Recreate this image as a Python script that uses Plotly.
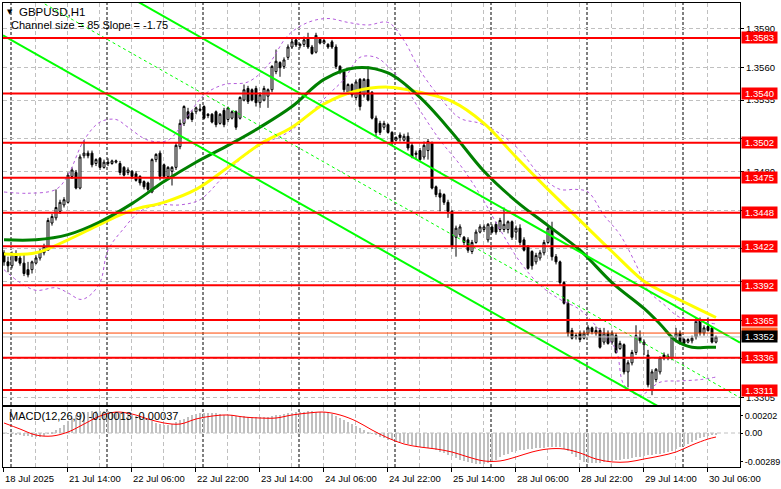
import plotly.graph_objects as go

# ---------------- data ----------------
bars = list(range(179))  # H1 bars, 18 Jul 22:00 ... 30 Jul 08:00

opens = [
 1.3417,1.3410,1.3407,1.3416,1.3413,1.3409,1.3404,1.3404,1.3409,1.3413,
 1.3417,1.3419,1.3440,1.3444,1.3449,1.3454,1.3456,1.3476,1.3479,1.3467,
 1.3492,1.3494,1.3494,1.3486,1.3490,1.3483,1.3487,1.3486,1.3487,1.3486,
 1.3483,1.3479,1.3480,1.3478,1.3476,1.3472,1.3471,1.3464,1.3489,1.3494,
 1.3485,1.3476,1.3480,1.3483,1.3499,1.3517,1.3526,1.3525,1.3526,1.3527,
 1.3530,1.3524,1.3524,1.3526,1.3517,1.3527,1.3520,1.3521,1.3526,1.3521,
 1.3535,1.3544,1.3543,1.3544,1.3533,1.3535,1.3538,1.3543,1.3557,1.3564,
 1.3561,1.3568,1.3576,1.35815,1.3577,1.3578,1.3583,1.3576,1.3572,1.3582,
 1.3579,1.3578,1.3580,1.3576,1.3561,1.3557,1.3541,1.3547,1.3537,1.3551,
 1.3539,1.3551,1.3541,1.3521,1.3517,1.3514,1.3516,1.3510,1.3504,1.3508,
 1.3504,1.3507,1.3500,1.3493,1.3496,1.3491,1.3496,1.3502,1.3468,1.3463,
 1.3462,1.3456,1.3449,1.3429,1.3431,1.3429,1.3427,1.3418,1.3425,1.3433,
 1.3435,1.3427,1.3437,1.3439,1.3435,1.3435,1.3435,1.3441,1.3433,1.3436,
 1.3427,1.3422,1.3418,1.3410,1.3413,1.3417,1.3425,1.3436,1.3414,1.3410,
 1.3394,1.3378,1.3357,1.3352,1.3355,1.3351,1.3355,1.3359,1.3355,1.3357,
 1.3348,1.3355,1.3348,1.3353,1.3343,1.3346,1.3325,1.3332,1.3340,1.3352,
 1.3346,1.3338,1.3311,1.3319,1.3325,1.3338,1.3336,1.3336,1.3352,1.3355,
 1.3350,1.3348,1.3349,1.3352,1.3365,1.3355,1.3360,1.3359,1.3348]

highs = [
 1.3419,1.3414,1.3418,1.3419,1.3415,1.3416,1.3410,1.3411,1.3415,1.3420,
 1.3424,1.3444,1.3447,1.3466,1.3458,1.3460,1.3479,1.3483,1.3481,1.3493,
 1.3504,1.3496,1.3496,1.3490,1.3491,1.3489,1.3490,1.3489,1.3489,1.3488,
 1.3484,1.3483,1.3481,1.3480,1.3477,1.3473,1.3472,1.3490,1.3494,1.3496,
 1.3486,1.3484,1.3484,1.3502,1.3520,1.3531,1.3529,1.3527,1.3530,1.3532,
 1.3531,1.3525,1.3525,1.3527,1.3525,1.3529,1.3530,1.3527,1.3527,1.3538,
 1.3547,1.3546,1.3544,1.3546,1.3541,1.3546,1.3544,1.3562,1.3574,1.3565,
 1.3568,1.3578,1.3583,1.3583,1.3579,1.3584,1.3587,1.35776,1.3587,1.3583,
 1.3583,1.3579,1.35815,1.3578,1.3562,1.3558,1.3548,1.3548,1.3551,1.3552,
 1.3552,1.3561,1.3542,1.3523,1.3519,1.3519,1.3517,1.3511,1.3507,1.3510,
 1.3509,1.3510,1.3502,1.3496,1.3498,1.3503,1.3505,1.3503,1.3469,1.3466,
 1.3463,1.3458,1.3450,1.3438,1.3439,1.3430,1.3429,1.3427,1.3435,1.3439,
 1.3439,1.3440,1.3439,1.3441,1.3444,1.3452,1.3442,1.3442,1.3438,1.3439,
 1.3429,1.3423,1.3419,1.3417,1.3419,1.3427,1.3438,1.3441,1.3416,1.3411,
 1.3395,1.3381,1.3359,1.3355,1.3357,1.3357,1.3361,1.3360,1.3360,1.3359,
 1.3359,1.3357,1.3357,1.3355,1.3349,1.3347,1.3334,1.3342,1.3361,1.3357,
 1.3350,1.3342,1.3327,1.3328,1.3337,1.3340,1.3339,1.3353,1.3359,1.3357,
 1.3351,1.3351,1.3353,1.3367,1.3367,1.3361,1.3367,1.3360,1.3353]

lows = [
 1.3407,1.3402,1.3405,1.3410,1.3407,1.3399,1.3398,1.3401,1.3408,1.3411,
 1.3415,1.3419,1.3438,1.3442,1.3447,1.3452,1.3455,1.3474,1.3466,1.3466,
 1.3490,1.3490,1.3483,1.3484,1.3481,1.3482,1.3484,1.3485,1.3486,1.3477,
 1.3476,1.3477,1.3474,1.3472,1.3469,1.3466,1.3463,1.3463,1.3487,1.3473,
 1.3475,1.3475,1.3469,1.3481,1.3497,1.3515,1.3520,1.3518,1.3524,1.3526,
 1.3520,1.3521,1.3517,1.3514,1.3516,1.3514,1.3518,1.3520,1.3512,1.3520,
 1.3534,1.3532,1.3534,1.3530,1.3529,1.3534,1.3529,1.3541,1.3555,1.3553,
 1.3559,1.3566,1.35745,1.3576,1.3575,1.3576,1.35745,1.3570,1.3571,1.3578,
 1.3578,1.35745,1.35745,1.3559,1.3555,1.3541,1.3539,1.3537,1.3535,1.3527,
 1.3537,1.3534,1.3520,1.3507,1.3508,1.3512,1.3509,1.3500,1.3503,1.3503,
 1.3503,1.3496,1.3490,1.3489,1.3487,1.3489,1.3489,1.3466,1.3460,1.3449,
 1.3454,1.3444,1.3420,1.3414,1.3429,1.3423,1.3417,1.3416,1.3424,1.3432,
 1.3433,1.3425,1.3432,1.3431,1.3433,1.3433,1.3432,1.3427,1.3427,1.3423,
 1.3418,1.3404,1.3404,1.3408,1.3411,1.3415,1.3424,1.3411,1.3408,1.3392,
 1.3377,1.3352,1.3350,1.3350,1.3348,1.3350,1.3353,1.3354,1.3353,1.3343,
 1.3346,1.3346,1.3346,1.3339,1.3342,1.3323,1.3313,1.3330,1.3338,1.3347,
 1.3338,1.3313,1.3307,1.3317,1.3323,1.3334,1.3334,1.3334,1.3350,1.3346,
 1.3346,1.3347,1.3347,1.3350,1.3353,1.3353,1.3356,1.3347,1.3347]

closes = [
 1.3410,1.3407,1.3416,1.3411,1.3409,1.3401,1.3400,1.3410,1.3413,1.3418,
 1.3422,1.3442,1.3445,1.3452,1.3456,1.3458,1.3477,1.3481,1.3467,1.3491,
 1.3494,1.3492,1.3485,1.3489,1.3483,1.3487,1.3486,1.3488,1.3488,1.3479,
 1.3477,1.3481,1.3476,1.3473,1.3471,1.3468,1.3466,1.3489,1.3493,1.3476,
 1.3476,1.3483,1.3483,1.3500,1.3517,1.3530,1.3521,1.3520,1.3529,1.3528,
 1.3521,1.3523,1.3518,1.3516,1.3524,1.3516,1.3529,1.3526,1.3514,1.3537,
 1.3543,1.3534,1.3535,1.3533,1.3539,1.3544,1.3543,1.3561,1.3565,1.3560,
 1.3566,1.3576,1.3580,1.35776,1.3578,1.35815,1.3576,1.3571,1.3585,1.3579,
 1.3581,1.3576,1.3576,1.3561,1.3557,1.3543,1.3547,1.3539,1.3549,1.3530,
 1.3551,1.3535,1.3521,1.3510,1.3510,1.3517,1.3510,1.3502,1.3506,1.3506,
 1.3507,1.3498,1.3491,1.3494,1.3489,1.3500,1.3503,1.3467,1.3462,1.3460,
 1.3456,1.3449,1.3422,1.3436,1.3437,1.3425,1.3419,1.3425,1.3433,1.3437,
 1.3437,1.3439,1.3433,1.3433,1.3442,1.3439,1.3441,1.3429,1.3436,1.3425,
 1.3419,1.3405,1.3407,1.3415,1.3417,1.3425,1.3436,1.3414,1.3410,1.3394,
 1.3378,1.3355,1.3351,1.3353,1.3350,1.3355,1.3359,1.3356,1.3357,1.3344,
 1.3355,1.3347,1.3355,1.3340,1.3347,1.3325,1.3332,1.3340,1.3353,1.3349,
 1.3348,1.3315,1.3325,1.3327,1.3336,1.3336,1.3337,1.3352,1.3355,1.3347,
 1.3347,1.3350,1.3351,1.3364,1.3355,1.3359,1.3357,1.3348,1.3352]

# moving averages read at sample bars
ma_idx = [0,8,16,24,32,40,48,56,64,72,80,88,96,104,112,120,128,136,144,152,160,164,168,172,176,178]
ma_green = [1.3427,1.3427,1.3431,1.3441,1.3455,1.3472,1.3487,1.3500,1.3514,1.3530,1.3551,1.3560,1.3556,
            1.3537,1.3510,1.3480,1.3457,1.3438,1.3419,1.3394,1.3374,1.3362,1.3349,1.3344,1.3344,1.3344]
ma_yellow = [1.3416,1.3417,1.3427,1.3439,1.3450,1.3456,1.3466,1.3483,1.3501,1.3514,1.3532,1.3542,1.3545,
             1.3541,1.3534,1.3517,1.3491,1.3466,1.3442,1.3418,1.3395,1.3388,1.3382,1.3376,1.3370,1.3367]

# envelope bands (dashed violet)
band_up_idx = [0,6,13,16,20,24,28,31,36,41,46,50,55,61,66,71,76,81,86,91,96,100,104,109,114,119,124,129,
               134,139,143,146,150,154,158,161,165,169,174,178]
band_up = [1.3464,1.3463,1.3466,1.3477,1.3504,1.3518,1.3520,1.3514,1.3504,1.3504,1.3523,1.3539,1.3547,1.3549,
           1.3562,1.3585,1.3595,1.3598,1.3595,1.3593,1.3595,1.3581,1.3558,1.3537,1.3521,1.3517,1.3509,1.3496,
           1.3477,1.3466,1.3466,1.3464,1.3446,1.3431,1.3408,1.3388,1.3377,1.3367,1.3364,1.3362]
band_lo_idx = [0,4,8,13,16,19,21,24,26,30,34,39,44,49,54,59,64,71,76,81,85,89,93,96,100,104,109,114,119,124,
               129,134,139,144,149,153,155,159,164,169,174,178]
band_lo = [1.3404,1.3394,1.3388,1.3390,1.3386,1.3381,1.3383,1.3394,1.3419,1.3436,1.3449,1.3454,1.3454,1.3458,
           1.3473,1.3489,1.3500,1.3510,1.3523,1.3539,1.3551,1.3568,1.3568,1.3561,1.3547,1.3527,1.3504,1.3485,
           1.3462,1.3435,1.3410,1.3392,1.3381,1.3373,1.3357,1.3342,1.3315,1.3307,1.3317,1.3318,1.3319,1.3321]

# regression channel (Channel size = 85, Slope = -1.75)
chan_x = [-0.25, 184.0]
chan_upper = [1.36700, 1.33476]
chan_mid = [1.36275, 1.33051]
chan_lower = [1.35850, 1.32626]

levels = [1.3583, 1.3540, 1.3502, 1.3475, 1.3448, 1.3422, 1.3392, 1.3365, 1.3336, 1.3311]
bid_price = 1.3352
ask_price = 1.3355
price_grid = [1.3590, 1.3560, 1.3535, 1.3505, 1.3480, 1.3450, 1.3420, 1.3395, 1.3365, 1.3335, 1.3305]
price_grid_shown = [1.3590, 1.3560, 1.3535, 1.3480, 1.3420, 1.3305]  # labels not covered by level boxes

macd_hist = [
 -0.00009,-0.00009,-0.00009,-0.00019,-0.00019,-0.00028,-0.00028,-0.00037,-0.00037,-0.00037,
 -0.00028,-0.00009,0.00009,0.00028,0.00046,0.00074,0.00111,0.00139,0.00167,0.00185,
 0.00194,0.00198,0.00200,0.00202,0.00202,0.00201,0.00200,0.00198,0.00194,0.00185,
 0.00185,0.00176,0.00167,0.00157,0.00148,0.00139,0.00130,0.00111,0.00093,0.00083,
 0.00074,0.00074,0.00083,0.00102,0.00120,0.00130,0.00148,0.00167,0.00176,0.00185,
 0.00185,0.00185,0.00185,0.00185,0.00176,0.00167,0.00167,0.00167,0.00157,0.00157,
 0.00157,0.00148,0.00148,0.00148,0.00148,0.00148,0.00148,0.00157,0.00167,0.00167,
 0.00176,0.00185,0.00185,0.00194,0.00194,0.00199,0.00201,0.00200,0.00198,0.00194,
 0.00194,0.00185,0.00176,0.00157,0.00139,0.00120,0.00102,0.00083,0.00065,0.00046,
 0.00028,0.00009,-0.00009,-0.00019,-0.00037,-0.00046,-0.00065,-0.00065,-0.00074,-0.00083,
 -0.00093,-0.00102,-0.00111,-0.00120,-0.00130,-0.00130,-0.00139,-0.00139,-0.00157,-0.00176,
 -0.00185,-0.00204,-0.00213,-0.00231,-0.00250,-0.00259,-0.00268,-0.00278,-0.00287,-0.00289,
 -0.00287,-0.00278,-0.00268,-0.00250,-0.00222,-0.00204,-0.00194,-0.00176,-0.00167,-0.00157,
 -0.00157,-0.00148,-0.00148,-0.00139,-0.00139,-0.00139,-0.00130,-0.00130,-0.00130,-0.00130,
 -0.00148,-0.00167,-0.00194,-0.00222,-0.00250,-0.00268,-0.00278,-0.00278,-0.00278,-0.00278,
 -0.00268,-0.00268,-0.00259,-0.00250,-0.00250,-0.00241,-0.00241,-0.00231,-0.00222,-0.00222,
 -0.00213,-0.00204,-0.00204,-0.00194,-0.00194,-0.00185,-0.00176,-0.00167,-0.00148,-0.00130,
 -0.00120,-0.00102,-0.00083,-0.00065,-0.00046,-0.00037,-0.00028,-0.00019,-0.00013]

sig_idx = list(range(0, 177, 4)) + [178]
macd_signal = [0.00093,0.00037,-0.00019,-0.00028,0.00009,0.00083,0.00157,0.00194,0.00176,0.00130,
               0.00093,0.00083,0.00130,0.00157,0.00167,0.00148,0.00139,0.00139,0.00167,0.00185,
               0.00194,0.00167,0.00111,0.00028,-0.00046,-0.00102,-0.00130,-0.00148,-0.00176,-0.00222,
               -0.00259,-0.00259,-0.00222,-0.00176,-0.00148,-0.00148,-0.00185,-0.00241,-0.00268,-0.00268,
               -0.00241,-0.00213,-0.00176,-0.00111,-0.00056,-0.00037]
macd_max_label, macd_min_label = 0.00202, -0.00289

day_start_bars = [2, 26, 50, 74, 98, 122, 146, 170]
time_label_bars = [0, 16, 32, 48, 64, 80, 96, 112, 128, 144, 160, 176]
time_labels = ["18 Jul 2025", "21 Jul 14:00", "22 Jul 06:00", "22 Jul 22:00", "23 Jul 14:00",
               "24 Jul 06:00", "24 Jul 22:00", "25 Jul 14:00", "28 Jul 06:00", "28 Jul 22:00",
               "29 Jul 14:00", "30 Jul 06:00"]

# ---------------- figure ----------------
FONT = "Liberation Sans, Arial, DejaVu Sans"
FS = 9.5
XR = [-0.25, 184.0]
GRID = "#C0C0C0"
VIOLET = "#B45CDC"
LIME = "#00FF00"

fig = go.Figure()

fig.add_trace(go.Candlestick(
    x=bars, open=opens, high=highs, low=lows, close=closes,
    increasing=dict(line=dict(color="black", width=1), fillcolor="white"),
    decreasing=dict(line=dict(color="black", width=1), fillcolor="black"),
    whiskerwidth=0, xaxis="x", yaxis="y", hoverinfo="skip"))

fig.add_trace(go.Scatter(x=band_up_idx, y=band_up, mode="lines", line=dict(color=VIOLET, width=1, dash="3px,3px", shape="spline"), xaxis="x", yaxis="y"))
fig.add_trace(go.Scatter(x=band_lo_idx, y=band_lo, mode="lines", line=dict(color=VIOLET, width=1, dash="3px,3px", shape="spline"), xaxis="x", yaxis="y"))
fig.add_trace(go.Scatter(x=ma_idx, y=ma_yellow, mode="lines", line=dict(color="#FFFF00", width=3, shape="spline"), xaxis="x", yaxis="y"))
fig.add_trace(go.Scatter(x=ma_idx, y=ma_green, mode="lines", line=dict(color="#008000", width=3, shape="spline"), xaxis="x", yaxis="y"))

fig.add_trace(go.Scatter(x=chan_x, y=chan_upper, mode="lines", line=dict(color=LIME, width=2), xaxis="x", yaxis="y"))
fig.add_trace(go.Scatter(x=chan_x, y=chan_lower, mode="lines", line=dict(color=LIME, width=2), xaxis="x", yaxis="y"))
fig.add_trace(go.Scatter(x=chan_x, y=chan_mid, mode="lines", line=dict(color=LIME, width=1, dash="3px,3px"), xaxis="x", yaxis="y"))

fig.add_trace(go.Bar(x=bars, y=macd_hist, width=0.5, marker=dict(color="#C0C0C0", line=dict(width=0)), xaxis="x2", yaxis="y2"))
fig.add_trace(go.Scatter(x=sig_idx, y=macd_signal, mode="lines", line=dict(color="#FF0000", width=1, shape="spline"), xaxis="x2", yaxis="y2"))

shapes = []
for d in day_start_bars:
    for xr, yr in (("x", "y domain"), ("x2", "y2 domain")):
        shapes.append(dict(type="line", xref=xr, yref=yr, x0=d - 0.25, x1=d - 0.25, y0=0, y1=1,
                           line=dict(color="black", width=1, dash="3px,2px"), layer="below"))
shapes.append(dict(type="line", xref="x2 domain", yref="y2", x0=0, x1=1, y0=0, y1=0,
                   line=dict(color=GRID, width=1, dash="4px,3px"), layer="below"))
shapes.append(dict(type="line", xref="x domain", yref="y", x0=0, x1=1, y0=bid_price, y1=bid_price,
                   line=dict(color="#C0C0C0", width=1), layer="above"))
shapes.append(dict(type="line", xref="x domain", yref="y", x0=0, x1=1, y0=ask_price, y1=ask_price,
                   line=dict(color="#FF4500", width=1), layer="above"))
for lv in levels:
    shapes.append(dict(type="line", xref="x domain", yref="y", x0=0, x1=1, y0=lv, y1=lv,
                       line=dict(color="#FF0000", width=2), layer="above"))

ann = []
def price_box(val, bg, txt_color="white"):
    return dict(xref="paper", x=1, xanchor="left", xshift=1, yref="y", y=val, yanchor="middle",
                text=f"{val:.4f}", showarrow=False, bgcolor=bg, width=35, height=11, borderpad=0,
                align="center", font=dict(family=FONT, size=FS, color=txt_color))

ann.append(price_box(ask_price, "#FF5A1E"))
for lv in levels:
    ann.append(price_box(lv, "#FF0000"))
ann.append(price_box(bid_price, "#000000"))

for b, t in zip(time_label_bars, time_labels):
    ann.append(dict(xref="x2", x=b - 0.25, xanchor="left", yref="paper", y=0, yanchor="top", yshift=-4,
                    text=t, showarrow=False, font=dict(family=FONT, size=9.5, color="black")))

ann.append(dict(xref="paper", x=0, xanchor="left", xshift=2, yref="paper", y=1, yanchor="top", yshift=-3,
                text="▼", showarrow=False, font=dict(family="DejaVu Sans", size=7, color="black")))
ann.append(dict(xref="paper", x=0, xanchor="left", xshift=14, yref="paper", y=1, yanchor="top", yshift=-1,
                text="GBPUSD,H1", showarrow=False, font=dict(family=FONT, size=11.5, color="black")))
ann.append(dict(xref="paper", x=0, xanchor="left", xshift=6, yref="paper", y=1, yanchor="top", yshift=-14,
                text="Channel size = 85 Slope = -1.75", showarrow=False, font=dict(family=FONT, size=11, color="black")))
ann.append(dict(xref="paper", x=0, xanchor="left", xshift=4, yref="y2 domain", y=1, yanchor="top", yshift=-1,
                text=f"MACD(12,26,9) {macd_hist[-1]:.5f} {macd_signal[-1]:.5f}", showarrow=False,
                font=dict(family=FONT, size=11, color="black")))

main_dom = [0.1336, 1.0]
macd_dom = [0.0, 0.1293]

fig.update_layout(
    width=781, height=489,
    margin=dict(l=3, r=41, t=3, b=22, autoexpand=False),
    paper_bgcolor="white", plot_bgcolor="white",
    showlegend=False, bargap=0,
    shapes=shapes, annotations=ann,
    xaxis=dict(domain=[0, 1], range=XR, anchor="y", rangeslider=dict(visible=False),
               showgrid=True, gridcolor=GRID, griddash="4px,3px", gridwidth=1,
               tickmode="linear", tick0=-0.25, dtick=8, showticklabels=False, ticks="",
               showline=True, mirror=True, linecolor="black", linewidth=1, zeroline=False),
    yaxis=dict(domain=main_dom, range=[1.32994, 1.36100], side="right", anchor="x",
               tickmode="array", tickvals=price_grid,
               ticktext=[f"{v:.4f}" if v in price_grid_shown else "" for v in price_grid],
               showgrid=True, gridcolor=GRID, griddash="4px,3px", gridwidth=1,
               ticks="outside", ticklen=3, tickcolor="black",
               tickfont=dict(family=FONT, size=FS, color="black"),
               showline=True, mirror=True, linecolor="black", linewidth=1, zeroline=False),
    xaxis2=dict(domain=[0, 1], range=XR, anchor="y2", matches="x",
                tickmode="array", tickvals=[b - 0.25 for b in time_label_bars], showticklabels=False,
                ticks="outside", ticklen=4, tickcolor="black",
                showgrid=True, gridcolor=GRID, griddash="4px,3px",
                minor=dict(tickmode="linear", tick0=-0.25, dtick=8, showgrid=True, gridcolor=GRID, griddash="4px,3px"),
                showline=True, mirror=True, linecolor="black", linewidth=1, zeroline=False),
    yaxis2=dict(domain=macd_dom, range=[-0.00315, 0.00241], side="right", anchor="x2",
                tickmode="array", tickvals=[0.0016, 0.0, -0.00265],
                ticktext=[f"{macd_max_label:.5f}", "0.00", f"{macd_min_label:.5f}"],
                showgrid=False, ticks="outside", ticklen=2, tickcolor="black",
                tickfont=dict(family=FONT, size=9, color="black"),
                showline=True, mirror=True, linecolor="black", linewidth=1, zeroline=False),
)

fig.write_html("out.html", config={"displayModeBar": False},
               post_script="document.body.style.margin='0px';document.body.style.overflow='hidden';")
